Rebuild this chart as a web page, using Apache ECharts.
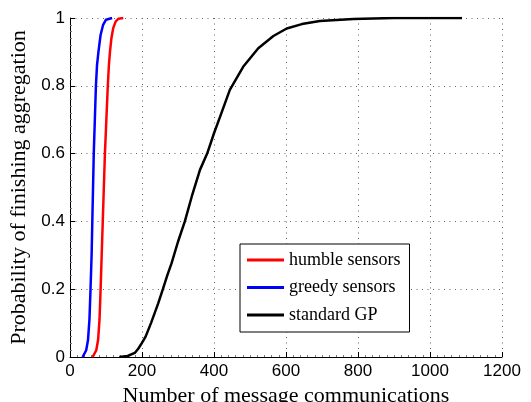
<!DOCTYPE html>
<html>
<head>
<meta charset="utf-8">
<script src="https://cdn.jsdelivr.net/npm/echarts@6/dist/echarts.min.js"></script>
<style>
  html, body { margin: 0; padding: 0; background: #fff; }
  #chart { width: 531px; height: 402px; }
</style>
</head>
<body>
<div id="chart"></div>
<script>
var humbleX = [63, 68, 73, 78, 82, 85, 88, 91, 94, 97, 101, 105, 108, 111, 115, 120, 127, 135, 148]
var humbleY = [0, 0.005, 0.02, 0.05, 0.11, 0.2, 0.3, 0.4, 0.5, 0.6, 0.7, 0.8, 0.86, 0.9, 0.94, 0.97, 0.99, 0.998, 1]

var greedyX = [35, 40, 45, 50, 54, 57, 60, 62, 64, 66, 69, 72, 75, 79, 85, 92, 100, 117]
var greedyY = [0, 0.005, 0.02, 0.05, 0.11, 0.2, 0.3, 0.4, 0.5, 0.6, 0.7, 0.8, 0.86, 0.9, 0.95, 0.98, 0.995, 1]

var gpX = [137, 160, 180, 190, 199, 210, 225, 245, 258, 270, 282, 300, 319, 340, 361, 381, 400, 417, 444, 481, 523, 565, 602, 644, 694, 787, 900, 1089]
var gpY = [0, 0.003, 0.012, 0.025, 0.04, 0.06, 0.1, 0.158, 0.2, 0.24, 0.276, 0.34, 0.4, 0.48, 0.552, 0.6, 0.66, 0.709, 0.788, 0.856, 0.911, 0.947, 0.969, 0.982, 0.991, 0.997, 1, 1]

var seriesNames = ['humble sensors', 'greedy sensors', 'standard GP']
var seriesColors = ['#ff0000', '#0000ff', '#000000']

function pairs(xs, ys) {
  return xs.map(function (x, i) { return [x, ys[i]] })
}

var chart = echarts.init(document.getElementById('chart'))

var axisCommon = {
  axisLine: { lineStyle: { color: '#000', width: 1 } },
  axisTick: { inside: true, length: 5, lineStyle: { color: '#000' } },
  minorTick: { show: true, splitNumber: 10, length: 2, lineStyle: { color: '#777' } },
  splitLine: { show: true, lineStyle: { color: '#666', type: [1, 4.5], width: 1 } },
  axisLabel: {
    color: '#000', fontFamily: 'Liberation Sans', fontSize: 17,
    formatter: function (v) { return String(v) }
  },
  nameLocation: 'middle',
  nameTextStyle: { color: '#000', fontFamily: 'Liberation Serif', fontSize: 22 }
}

chart.setOption({
  backgroundColor: '#fff',
  animation: false,
  grid: { left: 70, right: 29, top: 18, bottom: 45, containLabel: false, outerBoundsMode: 'none' },
  legend: {
    left: 240,
    top: 244,
    orient: 'vertical',
    padding: [7, 9, 8, 7],
    borderColor: '#000',
    borderWidth: 1,
    backgroundColor: '#fff',
    itemWidth: 37,
    itemHeight: 3,
    itemGap: 9.5,
    textStyle: { color: '#000', fontFamily: 'Liberation Serif', fontSize: 18, lineHeight: 18 },
    data: seriesNames.map(function (n) { return { name: n, icon: 'rect' } })
  },
  xAxis: Object.assign({}, axisCommon, {
    type: 'value',
    min: 0,
    max: 1200,
    interval: 200,
    name: 'Number of message communications',
    nameGap: 19,
    axisLabel: Object.assign({}, axisCommon.axisLabel, { margin: 6 })
  }),
  yAxis: Object.assign({}, axisCommon, {
    type: 'value',
    min: 0,
    max: 1,
    interval: 0.2,
    name: 'Probability of finishing aggregation',
    nameGap: 30,
    nameRotate: 90,
    axisLabel: Object.assign({}, axisCommon.axisLabel, { margin: 5 })
  }),
  series: [
    { name: seriesNames[0], type: 'line', data: pairs(humbleX, humbleY) },
    { name: seriesNames[1], type: 'line', data: pairs(greedyX, greedyY) },
    { name: seriesNames[2], type: 'line', data: pairs(gpX, gpY) }
  ].map(function (s, i) {
    s.symbol = 'none'
    s.color = seriesColors[i]
    s.lineStyle = { color: seriesColors[i], width: 2.5 }
    return s
  })
})
</script>
</body>
</html>
